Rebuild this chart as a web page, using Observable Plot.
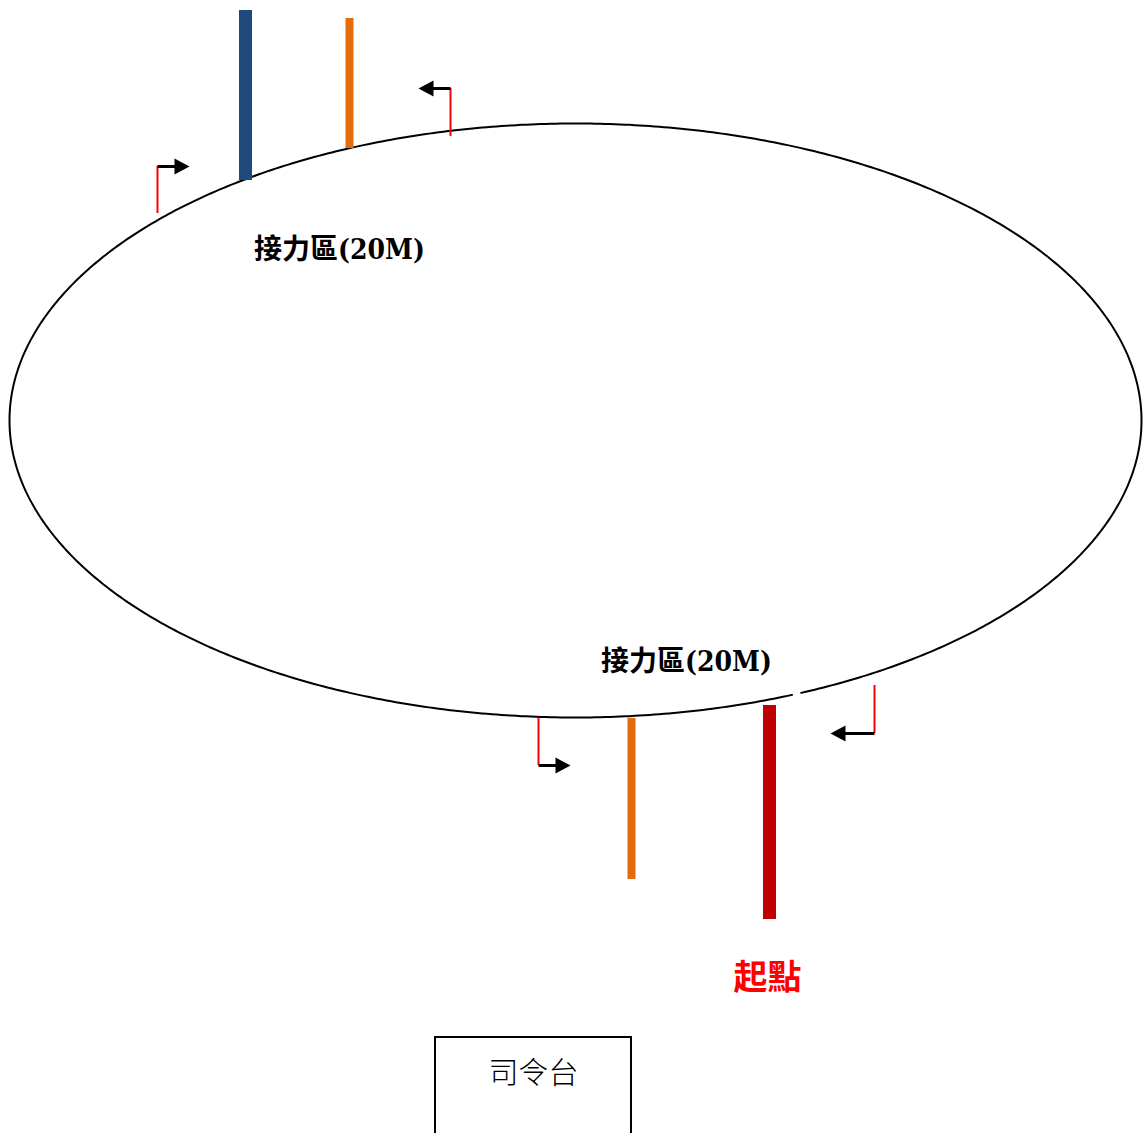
<!DOCTYPE html>
<html>
<head>
<meta charset="utf-8">
<script src="https://cdn.jsdelivr.net/npm/d3@7"></script>
<script src="https://cdn.jsdelivr.net/npm/@observablehq/plot@0.6"></script>
<style>
  html, body { margin: 0; padding: 0; background: #fff; }
  #chart svg { display: block; }
</style>
</head>
<body>
<div id="chart"></div>
<script>
// ---- Track (ellipse) ----
const trackCenter = [575, 420];
const trackRadii = [566, 297];
const trackGapAngle = 67; // degrees, clockwise from right

// ---- Coloured bars (lane markers) ----
const barX = [245, 349, 631, 769];
const barTop = [10, 18, 718, 705];
const barBottom = [180, 148, 879, 919];
const barWidth = [13, 8, 8, 13];
const barColor = ["#1f497d", "#e46c0a", "#e46c0a", "#c00000"];

// ---- Relay flags: red post + black arrow ----
const flagX = [157, 450, 538, 874];
const flagBase = [213, 136, 718, 685];
const flagTop = [166, 88, 765, 733];
const arrowTip = [189, 418, 570, 830];

// ---- Labels ----
const zoneLabels = ["接力區(20M)", "接力區(20M)"];
const zoneLabelX = [339, 686];
const zoneLabelY = [250, 662];
const startLabel = "起點";
const startPos = [767, 978];
const standLabel = "司令台";
const standBox = [435, 631, 1037, 1140];
const standLabelPos = [533, 1073];

// build tables
const ellipse = d3.range(0, 361, 0.5).map(a => {
  const gap = Math.abs(a - trackGapAngle) < 0.4;
  const t = a * Math.PI / 180;
  return {
    x: trackCenter[0] + trackRadii[0] * Math.cos(t),
    y: gap ? NaN : trackCenter[1] + trackRadii[1] * Math.sin(t)
  };
});
const bars = barX.map((x, i) => ({x, y1: barTop[i], y2: barBottom[i], w: barWidth[i], c: barColor[i]}));
const flags = flagX.map((x, i) => ({
  x, base: flagBase[i], top: flagTop[i], tip: arrowTip[i],
  dir: arrowTip[i] > x ? 1 : -1
}));
const zones = zoneLabels.map((t, i) => ({t, x: zoneLabelX[i], y: zoneLabelY[i]}));

// arrowhead symbol with the tip at the origin, pointing up
const arrowHead = {
  draw(ctx) {
    ctx.moveTo(0, 0);
    ctx.lineTo(-8, 15);
    ctx.lineTo(8, 15);
    ctx.closePath();
  }
};

const W = 1144, H = 1133;
const chart = Plot.plot({
  width: W,
  height: H,
  margin: 0,
  x: {domain: [0, W], range: [0, W], axis: null},
  y: {domain: [0, H], range: [0, H], axis: null},
  style: {background: "#fff", overflow: "visible"},
  marks: [
    Plot.line(ellipse, {x: "x", y: "y", stroke: "#000", strokeWidth: 2}),
    ...bars.map(b => Plot.ruleX([b], {x: "x", y1: "y1", y2: "y2", stroke: b.c, strokeWidth: b.w, strokeLinecap: "butt"})),
    Plot.ruleX(flags, {x: "x", y1: "base", y2: "top", stroke: "#ff0000", strokeWidth: 2}),
    Plot.link(flags, {x1: "x", y1: "top", x2: d => d.tip - d.dir * 10, y2: "top", stroke: "#000", strokeWidth: 3}),
    Plot.dot(flags, {x: "tip", y: "top", symbol: arrowHead, fill: "#000", stroke: "none", rotate: d => d.dir > 0 ? 90 : -90}),
    Plot.text(zones, {x: "x", y: "y", text: "t", fontSize: 28, fontWeight: "bold", fill: "#000",
      fontFamily: "'DejaVu Serif Condensed', 'Noto Sans CJK TC', 'Noto Sans CJK SC', serif"}),
    Plot.text([startLabel], {x: startPos[0], y: startPos[1], text: d => d, fontSize: 34, fontWeight: "bold", fill: "#ff0000",
      fontFamily: "'Noto Sans CJK TC', 'Noto Sans CJK SC', sans-serif"}),
    Plot.rect([standBox], {x1: d => d[0], x2: d => d[1], y1: d => d[2], y2: d => d[3], fill: "none", stroke: "#000", strokeWidth: 2}),
    Plot.text([standLabel], {x: standLabelPos[0], y: standLabelPos[1], text: d => d, fontSize: 30, fontWeight: 300, fill: "#000",
      fontFamily: "'Noto Sans CJK TC', 'Noto Sans CJK SC', sans-serif"})
  ]
});
document.getElementById("chart").appendChild(chart);
</script>
</body>
</html>
